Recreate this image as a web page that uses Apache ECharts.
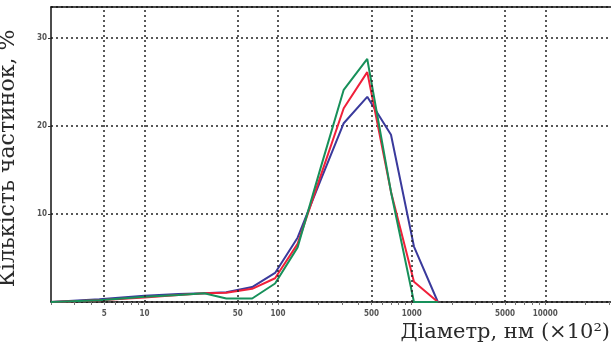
<!DOCTYPE html>
<html>
<head>
<meta charset="utf-8">
<script src="https://cdn.jsdelivr.net/npm/echarts@6/dist/echarts.min.js"></script>
<style>
  html, body { margin: 0; padding: 0; background: #fff; }
  #chart-container { width: 611px; height: 349px; }
</style>
</head>
<body>
<div id="chart-container"></div>
<script>
// diameters (nm x100), log scale
var diameters = [2, 4.6, 10, 18, 28, 41, 64, 95, 140, 208, 310, 465, 700, 1040, 1570];
var blueValues  = [0, 0.3, 0.7, 0.9, 1.0, 1.1, 1.7, 3.3, 7.3, 13.8, 20.3, 23.3, 19.0, 6.3, 0];
var redValues   = [0, 0.2, 0.5, 0.8, 1.0, 1.05, 1.5, 2.7, 6.6, 14.3, 22.0, 26.1, 12.5, 2.3, 0];
var greenValues = [0, 0.2, 0.6, 0.8, 1.0, 0.4, 0.4, 2.1, 6.2, 15.2, 24.1, 27.6, 12.5, 0, 0];
var xTickLabels = [5, 10, 50, 100, 500, 1000, 5000, 10000];
var yTickLabels = [10, 20, 30];

var minorTicks = [];
[1, 10, 100, 1000, 10000].forEach(function (p) {
    for (var k = 1; k <= 9; k++) {
        var v = k * p;
        if (v >= 2 && v <= 30000) minorTicks.push(v);
    }
});

function pairs(vals) {
    return diameters.map(function (d, i) { return [d, vals[i]]; });
}

var dom = document.getElementById('chart-container');
var myChart = echarts.init(dom, null, { renderer: 'canvas' });

var tickFont = {
    fontFamily: 'DejaVu Sans Condensed',
    fontSize: 8,
    fontWeight: 'bold',
    color: '#555'
};

var option = {
    animation: false,
    grid: { left: 51, right: 0, top: 7, bottom: 47, outerBoundsMode: 'none', containLabel: false },
    xAxis: [
        {
            type: 'log',
            logBase: 10,
            min: 2,
            max: 31000,
            axisLine: { lineStyle: { color: '#111', width: 1.5 } },
            axisTick: {
                customValues: minorTicks,
                length: 3,
                lineStyle: { color: '#777', width: 1 }
            },
            axisLabel: Object.assign({
                customValues: xTickLabels,
                margin: 8,
                formatter: function (v) { return String(Math.round(v)); }
            }, tickFont),
            splitLine: { show: false },
            minorTick: { show: false }
        },
        {
            type: 'log',
            position: 'top',
            min: 2,
            max: 31000,
            axisLine: { show: true, onZero: false, lineStyle: { color: '#111', width: 1.5 } },
            axisTick: { show: false },
            axisLabel: { show: false },
            splitLine: { show: false }
        }
    ],
    yAxis: {
        type: 'value',
        min: 0,
        max: 33.5,
        interval: 10,
        name: 'Кількість частинок, %',
        nameLocation: 'middle',
        nameGap: 32,
        nameTextStyle: {
            fontFamily: 'DejaVu Serif',
            fontSize: 22,
            color: '#2a2a2a',
            padding: [0, 8, 0, 0]
        },
        axisLine: { show: true, lineStyle: { color: '#111', width: 1.5 } },
        axisTick: { show: true, length: 3, lineStyle: { color: '#333' } },
        axisLabel: Object.assign({
            showMinLabel: false,
            showMaxLabel: false,
            margin: 4,
            formatter: function (v) { return yTickLabels.indexOf(v) >= 0 ? String(v) : ''; }
        }, tickFont),
        splitLine: { show: true, lineStyle: { color: '#222', width: 1.5, type: [2, 3] } }
    },
    graphic: [
        {
            type: 'text',
            right: 1,
            top: 322,
            style: {
                text: 'Діаметр, нм (×10²)',
                font: '21px "DejaVu Serif"',
                fill: '#2a2a2a'
            }
        }
    ],
    series: [
        {
            type: 'line',
            data: [],
            silent: true,
            markLine: {
                silent: true,
                symbol: 'none',
                label: { show: false },
                lineStyle: { color: '#222', width: 1.5, type: [2, 3] },
                data: xTickLabels.map(function (v) { return { xAxis: v }; })
            }
        },
        {
            type: 'line',
            data: pairs(blueValues),
            showSymbol: false,
            lineStyle: { color: '#3a3a9c', width: 2 },
            itemStyle: { color: '#3a3a9c' }
        },
        {
            type: 'line',
            data: pairs(redValues),
            showSymbol: false,
            lineStyle: { color: '#f0203a', width: 2 },
            itemStyle: { color: '#f0203a' }
        },
        {
            type: 'line',
            data: pairs(greenValues),
            showSymbol: false,
            lineStyle: { color: '#17905a', width: 2 },
            itemStyle: { color: '#17905a' }
        }
    ]
};

myChart.setOption(option);
window.addEventListener('resize', myChart.resize);
</script>
</body>
</html>
